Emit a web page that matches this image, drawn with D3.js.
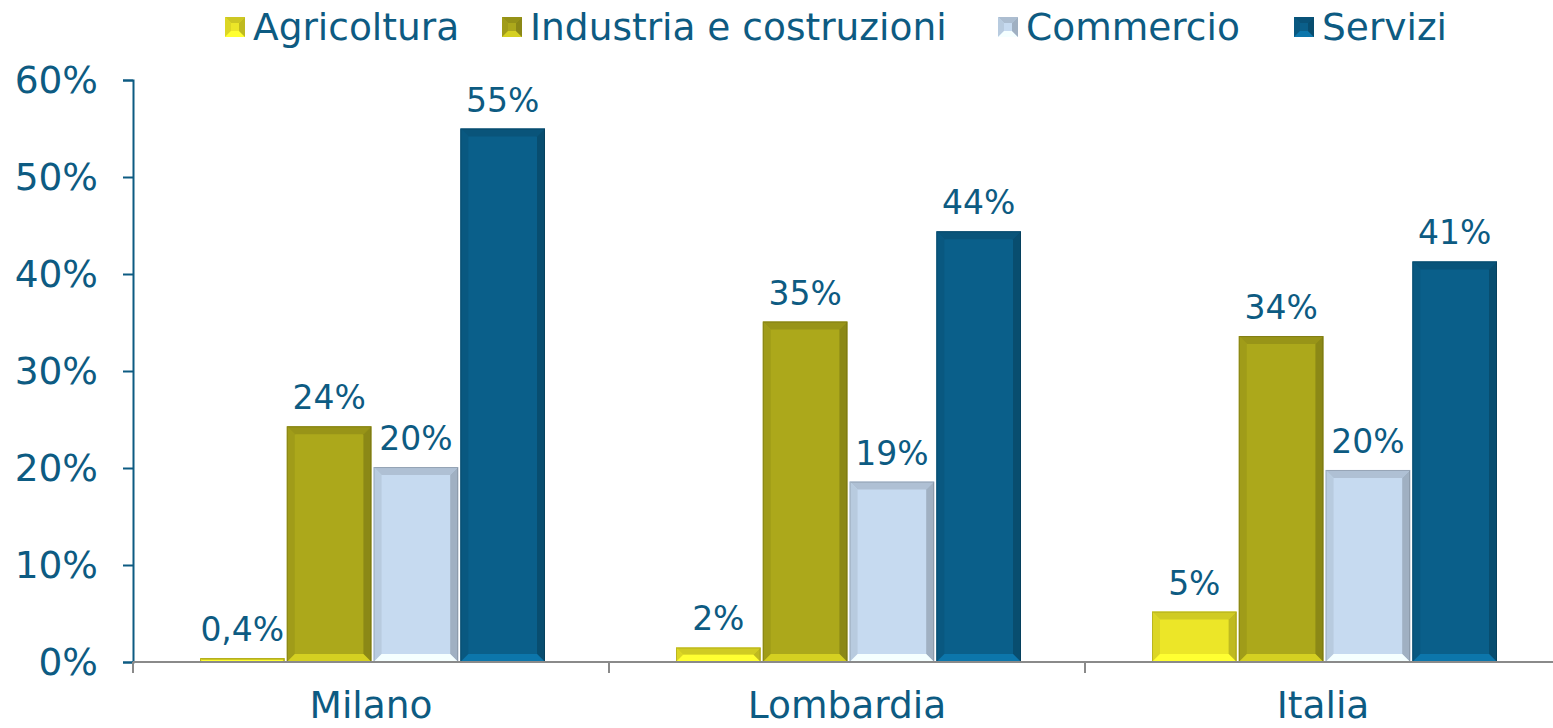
<html>
<head>
<meta charset="utf-8">
<script src="https://d3js.org/d3.v7.min.js"></script>
<style>
  body { margin: 0; background: #fff; }
  text { font-family: "DejaVu Sans", Verdana, sans-serif; fill: #0d5b82; }
</style>
</head>
<body>
<div id="chart"></div>
<script>

// data
var categories = ["Milano", "Lombardia", "Italia"];
var series = ["Agricoltura", "Industria e costruzioni", "Commercio", "Servizi"];
var agricoltura = [0.4, 1.5, 5.2];
var industria = [24.3, 35.1, 33.6];
var commercio = [20.1, 18.6, 19.8];
var servizi = [55.0, 44.4, 41.3];
var yTicks = [0, 10, 20, 30, 40, 50, 60];

var values = [agricoltura, industria, commercio, servizi];
var colors = ["#ece628", "#aca81b", "#c6daf0", "#0a5f8a"];

var W = 1553, H = 728;
var svg = d3.select("#chart").append("svg")
  .attr("width", W).attr("height", H);

var x0 = d3.scaleBand().domain(categories).range([133, 1561]);
var x1 = d3.scaleBand().domain(series).range([67, 412]).paddingInner(0.025);
var y = d3.scaleLinear().domain([0, 60]).range([662, 80]);

// y axis
var yAxis = svg.append("g")
  .attr("transform", "translate(133,0)")
  .call(d3.axisLeft(y).tickValues(yTicks).tickSize(10).tickPadding(25)
    .tickFormat(function(d) { return d + "%"; }));
yAxis.select(".domain").attr("stroke", "#0d5b82").attr("stroke-width", 2);
yAxis.selectAll(".tick line").attr("stroke", "#0d5b82").attr("stroke-width", 2);
yAxis.selectAll("text").style("font-size", "37.5px").attr("fill", "#0d5b82")
  .attr("font-family", null);

// bars
var rows = [];
categories.forEach(function(c, i) {
  series.forEach(function(s, j) {
    rows.push({cat: c, ser: s, v: values[j][i], color: colors[j]});
  });
});

function fmt(v) {
  if (v < 1) return String(v).replace(".", ",") + "%";
  return Math.round(v) + "%";
}

var bars = svg.append("g").selectAll("g.bar").data(rows).enter().append("g");
bars.each(function(d) {
  var g = d3.select(this);
  var bx = x0(d.cat) + x1(d.ser), bw = x1.bandwidth();
  var by = y(d.v), bh = y(0) - y(d.v);
  var b = Math.min(8, bh / 2, bw / 2);
  var base = d3.rgb(d.color);
  g.append("rect").attr("x", bx).attr("y", by).attr("width", bw).attr("height", bh)
    .attr("fill", d.color);
  var x2 = bx + bw, y2 = by + bh;
  // bevel edges
  g.append("polygon").attr("points", [[bx, by], [x2, by], [x2 - b, by + b], [bx + b, by + b]].join(" "))
    .attr("fill", base.darker(0.35));
  g.append("polygon").attr("points", [[bx, by], [bx + b, by + b], [bx + b, y2 - b], [bx, y2]].join(" "))
    .attr("fill", base.darker(0.2));
  g.append("polygon").attr("points", [[x2, by], [x2, y2], [x2 - b, y2 - b], [x2 - b, by + b]].join(" "))
    .attr("fill", base.darker(0.6));
  g.append("polygon").attr("points", [[bx, y2], [bx + b, y2 - b], [x2 - b, y2 - b], [x2, y2]].join(" "))
    .attr("fill", base.brighter(0.6));
  g.append("rect").attr("x", bx + 0.5).attr("y", by + 0.5).attr("width", bw - 1).attr("height", Math.max(0, bh - 1))
    .attr("fill", "none").attr("stroke", "#000").attr("stroke-opacity", 0.15);
  g.append("text").attr("x", bx + bw / 2).attr("y", by - 17)
    .attr("text-anchor", "middle").style("font-size", "33px")
    .text(fmt(d.v));
});

// x axis
var xAxis = svg.append("g").attr("transform", "translate(0,662)");
xAxis.append("line").attr("x1", 133).attr("x2", W).attr("stroke", "#8a8a8a").attr("stroke-width", 2);
categories.forEach(function(c) {
  xAxis.append("line").attr("x1", x0(c)).attr("x2", x0(c)).attr("y1", 0).attr("y2", 11)
    .attr("stroke", "#8a8a8a").attr("stroke-width", 2);
  xAxis.append("text").attr("x", x0(c) + x0.bandwidth() / 2).attr("y", 56)
    .attr("text-anchor", "middle").style("font-size", "37.5px").text(c);
});

// legend
var legendX = [225, 502, 998, 1294];
var legend = svg.append("g");
series.forEach(function(s, j) {
  var base = d3.rgb(colors[j]);
  var lg = legend.append("g").attr("transform", "translate(" + legendX[j] + ",17)");
  lg.append("rect").attr("width", 20).attr("height", 20).attr("fill", colors[j]);
  lg.append("polygon").attr("points", "0,0 20,0 14,6 6,6").attr("fill", base.darker(0.4));
  lg.append("polygon").attr("points", "0,0 6,6 6,14 0,20").attr("fill", base.darker(0.2));
  lg.append("polygon").attr("points", "0,20 6,14 14,14 20,20").attr("fill", base.brighter(0.6));
  lg.append("polygon").attr("points", "20,0 20,20 14,14 14,6").attr("fill", base.darker(0.6));
  lg.append("text").attr("x", 28).attr("y", 23).style("font-size", "37.5px")
    .text(s);
});

</script>
</body>
</html>
